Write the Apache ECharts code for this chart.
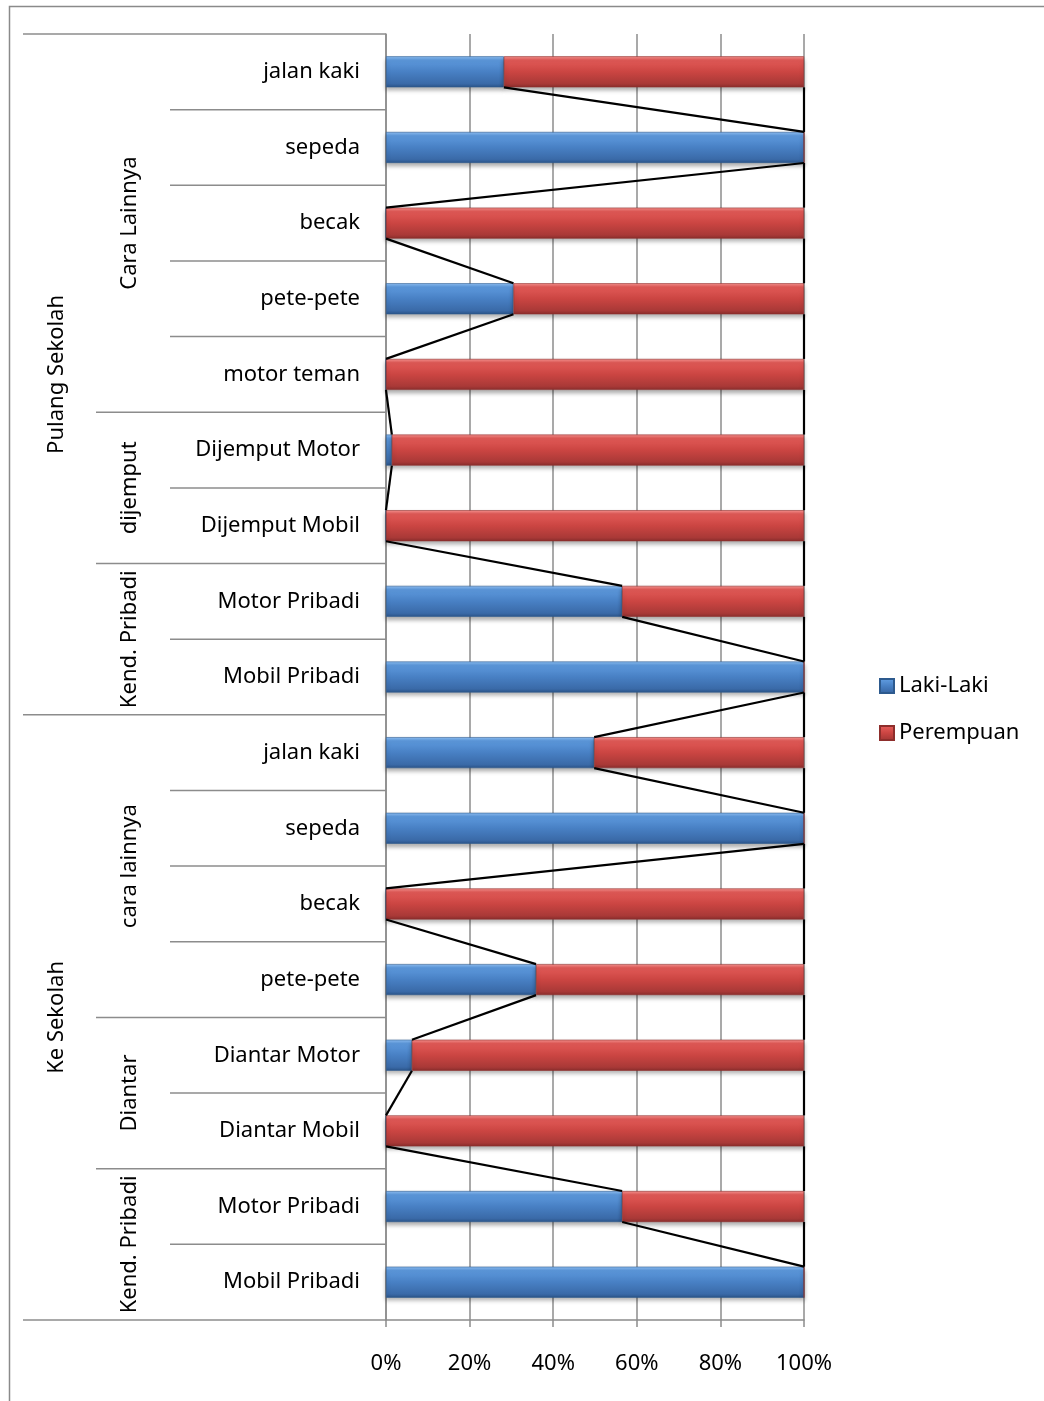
<!DOCTYPE html>
<html>
<head>
<meta charset="utf-8">
<title>Cara ke sekolah dan pulang sekolah</title>
<script src="https://cdn.jsdelivr.net/npm/echarts@6/dist/echarts.min.js"></script>
<style>
  html, body { margin: 0; padding: 0; background: #fff; }
  #chart { width: 1044px; height: 1401px; }
</style>
</head>
<body>
<div id="chart"></div>
<script>
// Leaf categories, listed from top to bottom
const categories = [
  'jalan kaki', 'sepeda', 'becak', 'pete-pete', 'motor teman',
  'Dijemput Motor', 'Dijemput Mobil',
  'Motor Pribadi', 'Mobil Pribadi',
  'jalan kaki', 'sepeda', 'becak', 'pete-pete',
  'Diantar Motor', 'Diantar Mobil',
  'Motor Pribadi', 'Mobil Pribadi'
];
// Second-level groups and how many leaf categories each spans
const subGroups = ['Cara Lainnya', 'dijemput', 'Kend. Pribadi', 'cara lainnya', 'Diantar', 'Kend. Pribadi'];
const subGroupSizes = [5, 2, 2, 4, 2, 2];
// Top-level groups
const mainGroups = ['Pulang Sekolah', 'Ke Sekolah'];
const mainGroupSizes = [9, 8];

// Share of each group (percent)
const lakiLaki  = [28.2, 100, 0, 30.5, 0, 1.4, 0, 56.5, 100, 49.8, 100, 0, 35.9, 6.2, 0, 56.5, 100];
const perempuan = [71.8, 0, 100, 69.5, 100, 98.6, 100, 43.5, 0, 50.2, 0, 100, 64.1, 93.8, 100, 43.5, 0];

const seriesNames = ['Laki-Laki', 'Perempuan'];
const xTickStep = 20;

const FONT = '"Noto Sans", "Open Sans", sans-serif';
const LABEL_SIZE = 22;
const BAR_RATIO = 0.41;
const AXIS_GREY = '#8c8c8c';

const blueFill = new echarts.graphic.LinearGradient(0, 0, 0, 1, [
  { offset: 0, color: '#8fc0f4' },
  { offset: 0.12, color: '#5d99dd' },
  { offset: 0.5, color: '#4880c4' },
  { offset: 0.88, color: '#3a6aa8' },
  { offset: 1, color: '#2b5488' }
]);
const redFill = new echarts.graphic.LinearGradient(0, 0, 0, 1, [
  { offset: 0, color: '#f79491' },
  { offset: 0.12, color: '#e25a57' },
  { offset: 0.5, color: '#cb4542' },
  { offset: 0.88, color: '#a93937' },
  { offset: 1, color: '#8a2e2d' }
]);

// Unique keys so repeated leaf names stay separate categories
const categoryKeys = categories.map((c, i) => i + '|' + c);

// Series-line segments joining the end of one bar to the next
function connectorData(ends) {
  const out = [];
  for (let i = 0; i < ends.length - 1; i++) out.push([ends[i], i, ends[i + 1], i + 1]);
  return out;
}
const lakiEnds = lakiLaki.slice();
const totalEnds = lakiLaki.map((v, i) => v + perempuan[i]);

function renderConnector(params, api) {
  const band = api.size([0, 1])[1];
  const half = band * BAR_RATIO / 2;
  const p1 = api.coord([api.value(0), api.value(1)]);
  const p2 = api.coord([api.value(2), api.value(3)]);
  return {
    type: 'line',
    shape: { x1: p1[0], y1: p1[1] + half, x2: p2[0], y2: p2[1] - half },
    style: { stroke: '#000', lineWidth: 2.2 }
  };
}

// Group spans [0, firstIndex, lastIndex]
function spans(sizes) {
  const out = [];
  let s = 0;
  sizes.forEach(n => { out.push([0, s, s + n - 1]); s += n; });
  return out;
}

function groupLabelRenderer(names, offset) {
  return function (params, api) {
    const band = api.size([0, 1])[1];
    const top = api.coord([0, api.value(1)])[1] - band / 2;
    const bottom = api.coord([0, api.value(2)])[1] + band / 2;
    const x0 = api.coord([0, 0])[0];
    return {
      type: 'text',
      x: x0 - offset,
      y: (top + bottom) / 2,
      rotation: Math.PI / 2,
      style: {
        text: names[params.dataIndex],
        fill: '#000',
        font: LABEL_SIZE + 'px ' + FONT,
        align: 'center',
        verticalAlign: 'middle'
      }
    };
  };
}

// Divider lines of the multi-level category axis
const boundaryLevels = [];
(function () {
  const subEdges = new Set([0]);
  let s = 0; subGroupSizes.forEach(n => { s += n; subEdges.add(s); });
  const mainEdges = new Set([0]);
  s = 0; mainGroupSizes.forEach(n => { s += n; mainEdges.add(s); });
  for (let b = 0; b <= categories.length; b++) {
    boundaryLevels.push([0, b, mainEdges.has(b) ? 3 : (subEdges.has(b) ? 2 : 1)]);
  }
})();
const dividerReach = { 1: 216, 2: 290, 3: 363 };

function renderDivider(params, api) {
  const band = api.size([0, 1])[1];
  const b = api.value(1);
  const last = categories.length - 1;
  const y = b <= last ? api.coord([0, b])[1] - band / 2 : api.coord([0, last])[1] + band / 2;
  const x0 = api.coord([0, 0])[0];
  return {
    type: 'line',
    shape: { x1: x0 - dividerReach[api.value(2)], y1: y, x2: x0, y2: y },
    style: { stroke: AXIS_GREY, lineWidth: 1.5 }
  };
}

const chart = echarts.init(document.getElementById('chart'), null, { renderer: 'canvas' });

chart.setOption({
  animation: false,
  backgroundColor: '#fff',
  textStyle: { fontFamily: FONT },
  graphic: [{
    type: 'rect',
    shape: { x: 9.5, y: 6.5, width: 1200, height: 1600 },
    style: { fill: null, stroke: '#8a8a8a', lineWidth: 1.5 },
    silent: true
  }],
  grid: { left: 386, right: 240, top: 34, bottom: 81, containLabel: false },
  legend: {
    data: seriesNames,
    orient: 'vertical',
    left: 874,
    top: 670,
    itemWidth: 14,
    itemHeight: 14,
    itemGap: 25,
    icon: 'rect',
    textStyle: { fontSize: LABEL_SIZE, color: '#000', fontFamily: FONT, lineHeight: 22 }
  },
  xAxis: {
    type: 'value',
    min: 0,
    max: 100,
    interval: xTickStep,
    axisLine: { show: true, lineStyle: { color: AXIS_GREY, width: 1.5 } },
    axisTick: { show: true, length: 7, lineStyle: { color: AXIS_GREY, width: 1.5 } },
    splitLine: { show: true, lineStyle: { color: AXIS_GREY, width: 1.5 } },
    axisLabel: { formatter: '{value}%', fontSize: 22, color: '#000', margin: 33, fontFamily: FONT }
  },
  yAxis: {
    type: 'category',
    inverse: true,
    data: categoryKeys,
    axisLine: { show: true, lineStyle: { color: AXIS_GREY, width: 1.5 } },
    axisTick: { show: false },
    splitLine: { show: false },
    axisLabel: {
      interval: 0,
      margin: 26,
      fontSize: LABEL_SIZE,
      color: '#000',
      fontFamily: FONT,
      formatter: v => v.slice(v.indexOf('|') + 1)
    }
  },
  series: [
    {
      name: seriesNames[0],
      type: 'bar',
      stack: 'total',
      barWidth: (BAR_RATIO * 100) + '%',
      data: lakiLaki,
      itemStyle: {
        color: blueFill,
        borderColor: '#2d5a8e', borderWidth: 0.6,
        shadowColor: 'rgba(0,0,0,0.3)', shadowBlur: 4, shadowOffsetY: 3
      },
      z: 2
    },
    {
      name: seriesNames[1],
      type: 'bar',
      stack: 'total',
      barWidth: (BAR_RATIO * 100) + '%',
      data: perempuan,
      itemStyle: {
        color: redFill,
        borderColor: '#8e2e2c', borderWidth: 0.6,
        shadowColor: 'rgba(0,0,0,0.3)', shadowBlur: 4, shadowOffsetY: 3
      },
      z: 2
    },
    {
      type: 'custom', coordinateSystem: 'cartesian2d', silent: true, z: 4, clip: false,
      encode: { x: [0, 2], y: [1, 3] },
      renderItem: renderConnector,
      data: connectorData(lakiEnds)
    },
    {
      type: 'custom', coordinateSystem: 'cartesian2d', silent: true, z: 4, clip: false,
      encode: { x: [0, 2], y: [1, 3] },
      renderItem: renderConnector,
      data: connectorData(totalEnds)
    },
    {
      type: 'custom', coordinateSystem: 'cartesian2d', silent: true, z: 5, clip: false,
      encode: { x: 0, y: [1, 2] },
      renderItem: groupLabelRenderer(subGroups, 256),
      data: spans(subGroupSizes)
    },
    {
      type: 'custom', coordinateSystem: 'cartesian2d', silent: true, z: 5, clip: false,
      encode: { x: 0, y: [1, 2] },
      renderItem: groupLabelRenderer(mainGroups, 329),
      data: spans(mainGroupSizes)
    },
    {
      type: 'custom', coordinateSystem: 'cartesian2d', silent: true, z: 5, clip: false,
      encode: { x: 0, y: 1 },
      renderItem: renderDivider,
      data: boundaryLevels
    }
  ]
});
</script>
</body>
</html>
